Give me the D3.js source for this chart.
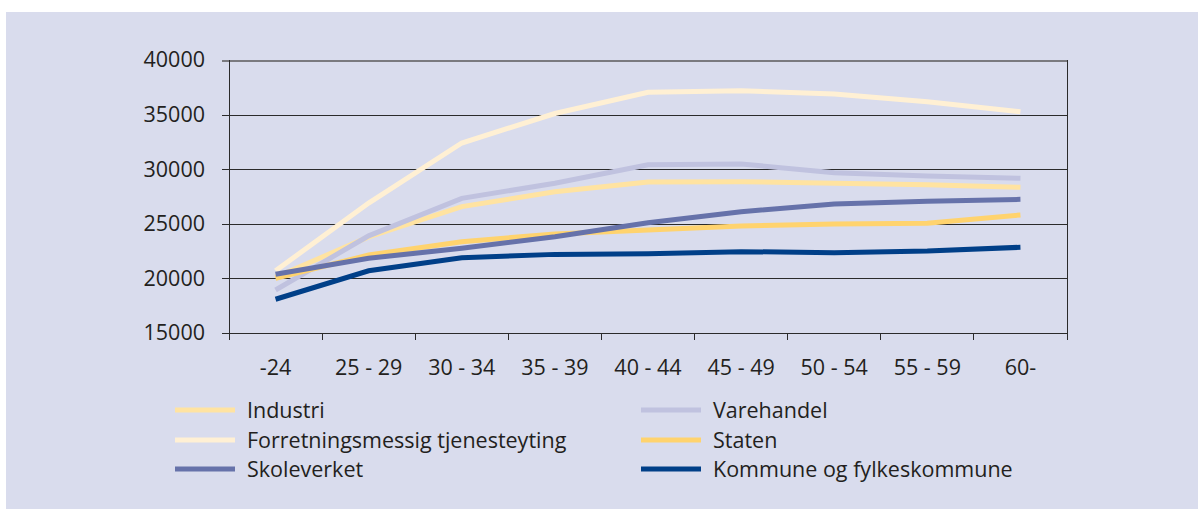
<!DOCTYPE html>
<html>
<head>
<meta charset="utf-8">
<script src="https://cdn.jsdelivr.net/npm/d3@7"></script>
<style>
  html, body { margin: 0; padding: 0; background: #ffffff; }
  svg { display: block; }
  text { font-family: "Open Sans", "Noto Sans", sans-serif; fill: #231f20; }
</style>
</head>
<body>
<svg id="chart" width="1198" height="509"></svg>
<script>
const categories = ["-24", "25 - 29", "30 - 34", "35 - 39", "40 - 44", "45 - 49", "50 - 54", "55 - 59", "60-"];
const yTicks = [15000, 20000, 25000, 30000, 35000, 40000];

const industri = [20100, 23800, 26570, 27940, 28830, 28860, 28710, 28580, 28340];
const forretningsmessig = [20700, 26900, 32400, 35100, 37040, 37190, 36890, 36180, 35270];
const varehandel = [18940, 23900, 27330, 28710, 30410, 30480, 29680, 29380, 29170];
const staten = [20010, 22140, 23360, 24070, 24430, 24800, 24980, 25040, 25810];
const skoleverket = [20380, 21840, 22760, 23820, 25100, 26110, 26810, 27060, 27240];
const kommune = [18090, 20700, 21900, 22200, 22260, 22450, 22360, 22510, 22850];

const seriesNames = ["Industri", "Forretningsmessig tjenesteyting", "Skoleverket", "Varehandel", "Staten", "Kommune og fylkeskommune"];
const seriesColors = ["#ffe3a1", "#fff0d4", "#6672aa", "#c0c2df", "#ffd36e", "#003f88"];

const series = [
  { name: seriesNames[0], values: industri, color: seriesColors[0] },
  { name: seriesNames[1], values: forretningsmessig, color: seriesColors[1] },
  { name: seriesNames[2], values: skoleverket, color: seriesColors[2] },
  { name: seriesNames[3], values: varehandel, color: seriesColors[3] },
  { name: seriesNames[4], values: staten, color: seriesColors[4] },
  { name: seriesNames[5], values: kommune, color: seriesColors[5] }
];
const drawOrder = [1, 0, 3, 4, 2, 5];
const fontSize = 21.5;

const svg = d3.select("#chart");
svg.append("rect").attr("x", 6).attr("y", 12).attr("width", 1192).attr("height", 497).attr("fill", "#d9dced");

const pLeft = 229, pRight = 1067, pTop = 60, pBottom = 333;
const x = d3.scaleBand().domain(categories).range([pLeft, pRight]).paddingInner(0).paddingOuter(0);
const y = d3.scaleLinear().domain([15000, 40000]).range([pBottom, pTop]);

// gridlines + y axis
const yAxis = d3.axisLeft(y).tickValues(yTicks).tickSize(pRight - pLeft + 7).tickPadding(17).tickFormat(d3.format("d"));
const gy = svg.append("g").attr("transform", `translate(${pRight},0)`).call(yAxis);
gy.select(".domain").remove();
gy.selectAll(".tick line").attr("stroke", "#2b2b2b").attr("stroke-width", 1).attr("shape-rendering", "crispEdges");
gy.selectAll(".tick line").filter(d => d === 40000).attr("stroke", "#7a7a7f").attr("stroke-width", 2);
gy.selectAll(".tick text").attr("font-size", fontSize).attr("fill", "#231f20").attr("font-family", null);

// vertical axis lines
svg.append("line").attr("x1", pLeft).attr("x2", pLeft).attr("y1", pTop).attr("y2", pBottom + 7).attr("stroke", "#2b2b2b").attr("shape-rendering", "crispEdges");
svg.append("line").attr("x1", pRight).attr("x2", pRight).attr("y1", pTop).attr("y2", pBottom + 7).attr("stroke", "#2b2b2b").attr("shape-rendering", "crispEdges");

// x axis
const boundaries = categories.map(c => x(c)).concat([pRight]);
svg.append("g").selectAll("line").data(boundaries).join("line")
  .attr("x1", d => d).attr("x2", d => d).attr("y1", pBottom).attr("y2", pBottom + 7)
  .attr("stroke", "#2b2b2b").attr("shape-rendering", "crispEdges");
svg.append("g").selectAll("text").data(categories).join("text")
  .attr("x", d => x(d) + x.bandwidth() / 2).attr("y", 375)
  .attr("text-anchor", "middle").attr("font-size", fontSize).text(d => d);

// lines
const line = d3.line().x((d, i) => x(categories[i]) + x.bandwidth() / 2).y(d => y(d));
svg.append("g").selectAll("path").data(drawOrder.map(i => series[i])).join("path")
  .attr("d", d => line(d.values)).attr("fill", "none")
  .attr("stroke", d => d.color).attr("stroke-width", 5)
  .attr("stroke-linejoin", "miter").attr("stroke-linecap", "butt");

// legend
const legendPos = [
  [175, 410], [175, 440], [175, 469],
  [641, 410], [641, 440], [641, 469]
];
const lg = svg.append("g").selectAll("g").data(series).join("g")
  .attr("transform", (d, i) => `translate(${legendPos[i][0]},${legendPos[i][1]})`);
lg.append("line").attr("x1", 0).attr("x2", 60).attr("y1", 0).attr("y2", 0)
  .attr("stroke", d => d.color).attr("stroke-width", 5);
lg.append("text").attr("x", 72).attr("y", 7.5).attr("font-size", fontSize).text(d => d.name);
</script>
</body>
</html>
